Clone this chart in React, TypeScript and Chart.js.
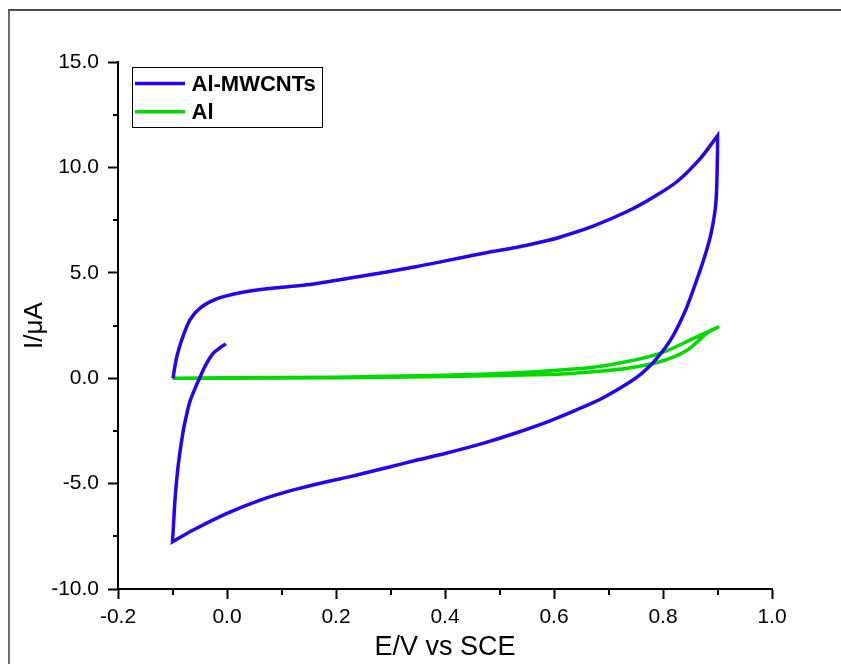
import React, { useEffect, useRef } from "react";
import { Chart, registerables } from "chart.js";

Chart.register(...registerables);

// Al-MWCNTs cyclic voltammogram (E / V vs SCE, I / µA), in trace order.
// Switching potentials (-0.1 V and 0.9 V) are listed twice so the curve keeps a sharp turn there.
const mwcntE = [
  -0.002, -0.013, -0.025, -0.038, -0.049, -0.058, -0.068, -0.074, -0.08, -0.089, -0.095, -0.098, -0.1, -0.1,
  -0.062, 0.0, 0.061, 0.122, 0.183, 0.226, 0.3, 0.349, 0.4, 0.471, 0.53, 0.594, 0.655, 0.692, 0.735,
  0.76, 0.783, 0.814, 0.839, 0.857, 0.875, 0.888, 0.897, 0.9, 0.9, 0.9,
  0.869, 0.826, 0.783, 0.735, 0.673, 0.612, 0.588, 0.53, 0.471, 0.349, 0.226, 0.147, 0.073, 0.024,
  -0.019, -0.049, -0.068, -0.083, -0.092, -0.096, -0.099,
];
const mwcntI = [
  1.63, 1.44, 1.19, 0.68, 0.08, -0.45, -1.1, -1.72, -2.45, -4.03, -5.62, -6.88, -7.76, -7.76,
  -7.2, -6.41, -5.78, -5.3, -4.91, -4.67, -4.2, -3.88, -3.57, -3.08, -2.6, -2.01, -1.35, -0.9, -0.25,
  0.21, 0.77, 1.82, 3.08, 4.3, 5.65, 6.85, 8.31, 10.68, 11.5, 11.5,
  10.44, 9.33, 8.6, 7.92, 7.23, 6.7, 6.53, 6.2, 5.93, 5.3, 4.75, 4.43, 4.24, 4.05,
  3.76, 3.34, 2.77, 1.82, 1.03, 0.5, 0.0,
];

// Al electrode
const alE = [
  -0.1, 0.0, 0.2, 0.4, 0.5, 0.612, 0.673, 0.735, 0.796, 0.845, 0.881, 0.903, 0.903,
  0.857, 0.796, 0.735, 0.673, 0.612, 0.5, 0.4, 0.2, 0.0, -0.1,
];
const alI = [
  0.0, 0.0, 0.02, 0.08, 0.13, 0.2, 0.31, 0.47, 0.79, 1.34, 2.14, 2.45, 2.45,
  1.9, 1.19, 0.79, 0.52, 0.39, 0.22, 0.14, 0.05, 0.02, 0.0,
];

const seriesLabels = ["Al-MWCNTs", "Al"];
const seriesColors = ["#2B00F2", "#00DA00"];

const xMajorTicks = [-0.2, 0.0, 0.2, 0.4, 0.6, 0.8, 1.0];
const xMinorTicks = [-0.1, 0.1, 0.3, 0.5, 0.7, 0.9];
const yMajorTicks = [-10, -5, 0, 5, 10, 15];
const yMinorTicks = [-7.5, -2.5, 2.5, 7.5, 12.5];

const FONT = '"Liberation Sans", Arial, sans-serif';

const toPoints = (xs: number[], ys: number[]) => xs.map((x, i) => ({ x, y: ys[i] }));

const minorTickPlugin = {
  id: "minorTicks",
  afterDraw(chart: any) {
    const { ctx, chartArea, scales } = chart;
    ctx.save();
    ctx.strokeStyle = "#000";
    ctx.lineWidth = 2;
    ctx.beginPath();
    xMinorTicks.forEach((v) => {
      const px = Math.round(scales.x.getPixelForValue(v));
      ctx.moveTo(px, chartArea.bottom);
      ctx.lineTo(px, chartArea.bottom + 6);
    });
    yMinorTicks.forEach((v) => {
      const py = Math.round(scales.y.getPixelForValue(v));
      ctx.moveTo(chartArea.left, py);
      ctx.lineTo(chartArea.left - 5, py);
    });
    ctx.stroke();
    ctx.restore();
  },
};

const boxLegendPlugin = {
  id: "boxLegend",
  afterDraw(chart: any) {
    const { ctx, chartArea } = chart;
    const x0 = Math.round(chartArea.left + 14) + 0.5;
    const y0 = Math.round(chartArea.top + 5) + 0.5;
    ctx.save();
    ctx.strokeStyle = "#000";
    ctx.lineWidth = 1;
    ctx.strokeRect(x0, y0, 190, 60);
    chart.data.datasets.forEach((ds: any, i: number) => {
      const y = y0 + 16 + i * 28.3;
      ctx.strokeStyle = ds.borderColor;
      ctx.lineWidth = 3.5;
      ctx.beginPath();
      ctx.moveTo(x0 + 2.5, y);
      ctx.lineTo(x0 + 52.5, y);
      ctx.stroke();
      ctx.fillStyle = "#000";
      ctx.font = `bold 22px ${FONT}`;
      ctx.textBaseline = "middle";
      ctx.textAlign = "left";
      ctx.fillText(ds.label, x0 + 59, y + 1);
    });
    ctx.restore();
  },
};

export default function App() {
  const canvasRef = useRef<HTMLCanvasElement | null>(null);

  useEffect(() => {
    const canvas = canvasRef.current;
    if (!canvas) return;
    const common = {
      showLine: true,
      borderWidth: 3.5,
      pointRadius: 0,
      tension: 0.3,
      fill: false,
      borderJoinStyle: "miter",
    };
    const chart = new Chart(canvas, {
      type: "scatter",
      data: {
        datasets: [
          {
            ...common,
            label: seriesLabels[0],
            data: toPoints(mwcntE, mwcntI),
            borderColor: seriesColors[0],
            backgroundColor: seriesColors[0],
          },
          {
            ...common,
            label: seriesLabels[1],
            data: toPoints(alE, alI),
            borderColor: seriesColors[1],
            backgroundColor: seriesColors[1],
          },
        ],
      },
      options: {
        responsive: false,
        animation: false,
        events: [],
        layout: { padding: { left: 0, right: 69, top: 62, bottom: 0 } },
        plugins: {
          legend: { display: false },
          tooltip: { enabled: false },
        },
        scales: {
          x: {
            type: "linear",
            min: -0.2,
            max: 1.0,
            afterBuildTicks: (s: any) => {
              s.ticks = xMajorTicks.map((v) => ({ value: v }));
            },
            afterFit: (s: any) => {
              s.height = 75;
            },
            ticks: {
              color: "#000",
              font: { family: FONT, size: 21 },
              padding: 6,
              maxRotation: 0,
              callback: (v: any) => Number(v).toFixed(1),
            },
            grid: {
              display: true,
              drawOnChartArea: false,
              drawTicks: true,
              tickLength: 10,
              tickWidth: 2,
              tickColor: "#000",
            },
            border: { display: true, color: "#000", width: 2 },
            title: {
              display: true,
              text: "E/V vs SCE",
              color: "#000",
              font: { family: FONT, size: 27 },
              padding: { top: 0, bottom: 0 },
            },
          },
          y: {
            type: "linear",
            min: -10,
            max: 15,
            afterBuildTicks: (s: any) => {
              s.ticks = yMajorTicks.map((v) => ({ value: v }));
            },
            afterFit: (s: any) => {
              s.width = 118;
            },
            ticks: {
              color: "#000",
              font: { family: FONT, size: 21 },
              padding: 9,
              callback: (v: any) => Number(v).toFixed(1),
            },
            grid: {
              display: true,
              drawOnChartArea: false,
              drawTicks: true,
              tickLength: 10,
              tickWidth: 2,
              tickColor: "#000",
            },
            border: { display: true, color: "#000", width: 2 },
            title: {
              display: true,
              text: "I/\u03bcA",
              color: "#000",
              font: { family: FONT, size: 26 },
              padding: { top: 19, bottom: 0 },
            },
          },
        },
      },
      plugins: [minorTickPlugin, boxLegendPlugin],
    } as any);
    return () => chart.destroy();
  }, []);

  return (
    <div
      style={{
        position: "absolute",
        left: 0,
        top: 0,
        width: 841,
        height: 664,
        background: "#fff",
        overflow: "hidden",
      }}
    >
      <canvas
        ref={canvasRef}
        width={841}
        height={664}
        style={{ position: "absolute", left: 0, top: 0, display: "block" }}
      />
      <div
        style={{
          position: "absolute",
          left: 8,
          top: 9,
          right: -4,
          bottom: -4,
          borderTop: "2px solid #4a4a4a",
          borderLeft: "2px solid #6a6a6a",
          pointerEvents: "none",
        }}
      />
    </div>
  );
}
